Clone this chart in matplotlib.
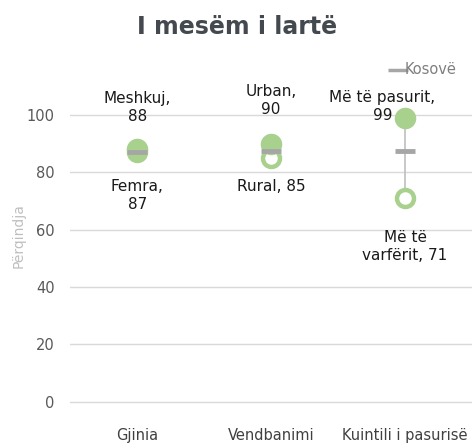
import matplotlib
matplotlib.use("Agg")
import matplotlib.pyplot as plt

categories = ["Gjinia", "Vendbanimi", "Kuintili i pasurisë"]
high_values = [88, 90, 99]
low_values = [87, 85, 71]
kosovo_values = [87, 87.5, 87.5]
high_labels = ["Meshkuj,\n88", "Urban,\n90", "Më të pasurit,\n99"]
low_labels = ["Femra,\n87", "Rural, 85", "Më të\nvarfërit, 71"]
yticks = [0, 20, 40, 60, 80, 100]

plt.rcParams['font.family'] = ['DejaVu Sans']
fig = plt.figure(figsize=(4.74, 4.44), dpi=100)
ax = fig.add_axes([0.148, 0.0900, 0.848, 0.716])

green = "#a9d18e"
gray = "#a6a6a6"
x = list(range(len(categories)))

for i in x:
    ax.plot([i, i], [low_values[i], high_values[i]], color="#bfbfbf", lw=1.2, zorder=1)
ax.scatter(x, low_values, s=150, facecolor="white", edgecolor=green, linewidth=3.2, zorder=2)
ax.scatter(x, high_values, s=210, color=green, zorder=3)
ax.scatter(x, kosovo_values, marker="_", s=220, color=gray, linewidth=3.5, zorder=4, label="Kosovë")

fs = 11
offs_high = [(0, 14.5), (0, 15), (-0.17, 4)]
for i in x:
    ax.text(i + offs_high[i][0], high_values[i] + offs_high[i][1], high_labels[i], ha="center", va="center",
            fontsize=fs, color="#1a1a1a", linespacing=1.25)
offs_low = [(0, -15), (0, -10), (0, -17)]
for i in x:
    ax.text(i + offs_low[i][0], low_values[i] + offs_low[i][1], low_labels[i], ha="center", va="center",
            fontsize=fs, color="#1a1a1a", linespacing=1.25)

ax.set_xlim(-0.5, 2.5)
ax.set_ylim(-0.8, 110)
ax.set_yticks(yticks)
ax.set_xticks(x)
ax.set_xticklabels(categories, fontsize=10.5, color="#404040")
ax.tick_params(axis="x", length=0, pad=17)
ax.tick_params(axis="y", length=0, pad=11, labelsize=10.5, labelcolor="#595959")
ax.grid(axis="y", color="#d9d9d9", lw=1)
ax.set_axisbelow(True)
for s in ax.spines.values():
    s.set_visible(False)
ax.set_ylabel("Përqindja", fontsize=10, color="#bfbfbf")
ax.yaxis.set_label_coords(-0.112, 0.53)

leg = ax.legend(loc="center right", bbox_to_anchor=(0.962, 1.053), frameon=False, fontsize=10.5,
                handlelength=0.7, handletextpad=0.15, borderaxespad=0, borderpad=0)
for t in leg.get_texts():
    t.set_color("#7f7f7f")
for h in leg.legend_handles:
    h.set_linewidth(2.5)

fig.text(0.5, 0.94, "I mesëm i lartë", ha="center", va="center", fontsize=17, fontweight="bold", color="#44494f")

fig.savefig("out.png", dpi=100)
